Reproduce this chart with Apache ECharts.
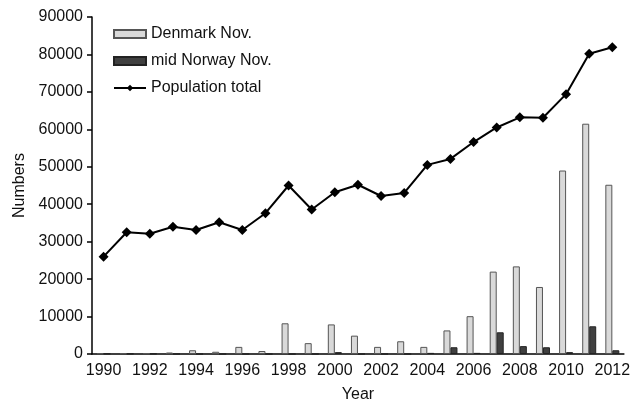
<!DOCTYPE html>
<html lang="en">
<head>
    <meta charset="UTF-8">
    <title>Numbers by year</title>
    <script src="https://cdn.jsdelivr.net/npm/echarts@6/dist/echarts.min.js"></script>
    <style>
        html, body { margin: 0; padding: 0; background: #fff; }
        #chart1 { width: 633px; height: 408px; }
    </style>
</head>
<body>
<div id="chart1"></div>
<script type="text/javascript">
    // data
    var years = ['1990', '1991', '1992', '1993', '1994', '1995', '1996', '1997', '1998', '1999', '2000',
        '2001', '2002', '2003', '2004', '2005', '2006', '2007', '2008', '2009', '2010', '2011', '2012'];
    var denmarkNov = [200, 200, 200, 400, 1000, 600, 1900, 800, 8200, 2900, 7900,
        4900, 1900, 3400, 1900, 6300, 10100, 22000, 23400, 17900, 49000, 61500, 45200];
    var norwayNov = [100, 100, 100, 0, 0, 0, 0, 0, 0, 0, 500,
        0, 0, 0, 300, 1800, 300, 5800, 2100, 1800, 500, 7400, 1000];
    var populationTotal = [26000, 32500, 32100, 34000, 33100, 35200, 33100, 37600, 45000, 38600, 43200,
        45200, 42200, 43000, 50500, 52100, 56600, 60500, 63200, 63100, 69400, 80200, 81900];

    var myChart1 = echarts.init(document.getElementById('chart1'));
    var font = 'Liberation Sans, Arial, sans-serif';

    myChart1.setOption({
        animation: false,
        backgroundColor: '#ffffff',
        textStyle: { fontFamily: font },
        grid: { left: 92, right: 3, top: 17, bottom: 51 },
        legend: {
            orient: 'vertical',
            left: 108,
            top: 21,
            itemWidth: 32,
            itemHeight: 8,
            itemGap: 11,
            textStyle: { fontFamily: font, fontSize: 16, color: '#111' },
            data: [
                { name: 'Denmark Nov.', icon: 'rect' },
                { name: 'mid Norway Nov.', icon: 'rect' },
                { name: 'Population total' }
            ]
        },
        xAxis: {
            type: 'category',
            data: years,
            name: 'Year',
            nameLocation: 'middle',
            nameGap: 33,
            nameTextStyle: { fontSize: 16, color: '#111' },
            axisLine: { lineStyle: { color: '#000', width: 1.5 } },
            axisTick: { interval: 0, length: 5, lineStyle: { color: '#000', width: 1.5 } },
            axisLabel: { interval: 1, fontSize: 16, color: '#111', margin: 9 },
            splitLine: { show: false }
        },
        yAxis: {
            type: 'value',
            min: 0,
            max: 90000,
            interval: 10000,
            name: 'Numbers',
            nameLocation: 'middle',
            nameGap: 64,
            nameTextStyle: { fontSize: 16, color: '#111' },
            axisLine: { show: true, lineStyle: { color: '#000', width: 1.5 } },
            axisTick: { show: true, length: 5, lineStyle: { color: '#000', width: 1.5 } },
            axisLabel: {
                fontSize: 16, color: '#111', margin: 9,
                formatter: function (v) { return String(v); }
            },
            splitLine: { show: false }
        },
        series: [
            {
                name: 'Denmark Nov.',
                type: 'bar',
                data: denmarkNov,
                barWidth: 7,
                barGap: '0%',
                itemStyle: { color: '#d9d9d9', borderColor: '#555', borderWidth: 1 }
            },
            {
                name: 'mid Norway Nov.',
                type: 'bar',
                data: norwayNov,
                barWidth: 7,
                barGap: '0%',
                itemStyle: { color: '#404040', borderColor: '#222', borderWidth: 1 }
            },
            {
                name: 'Population total',
                type: 'line',
                data: populationTotal,
                symbol: 'diamond',
                symbolSize: 10,
                lineStyle: { color: '#000', width: 2 },
                itemStyle: { color: '#000' }
            }
        ]
    });
</script>
</body>
</html>
